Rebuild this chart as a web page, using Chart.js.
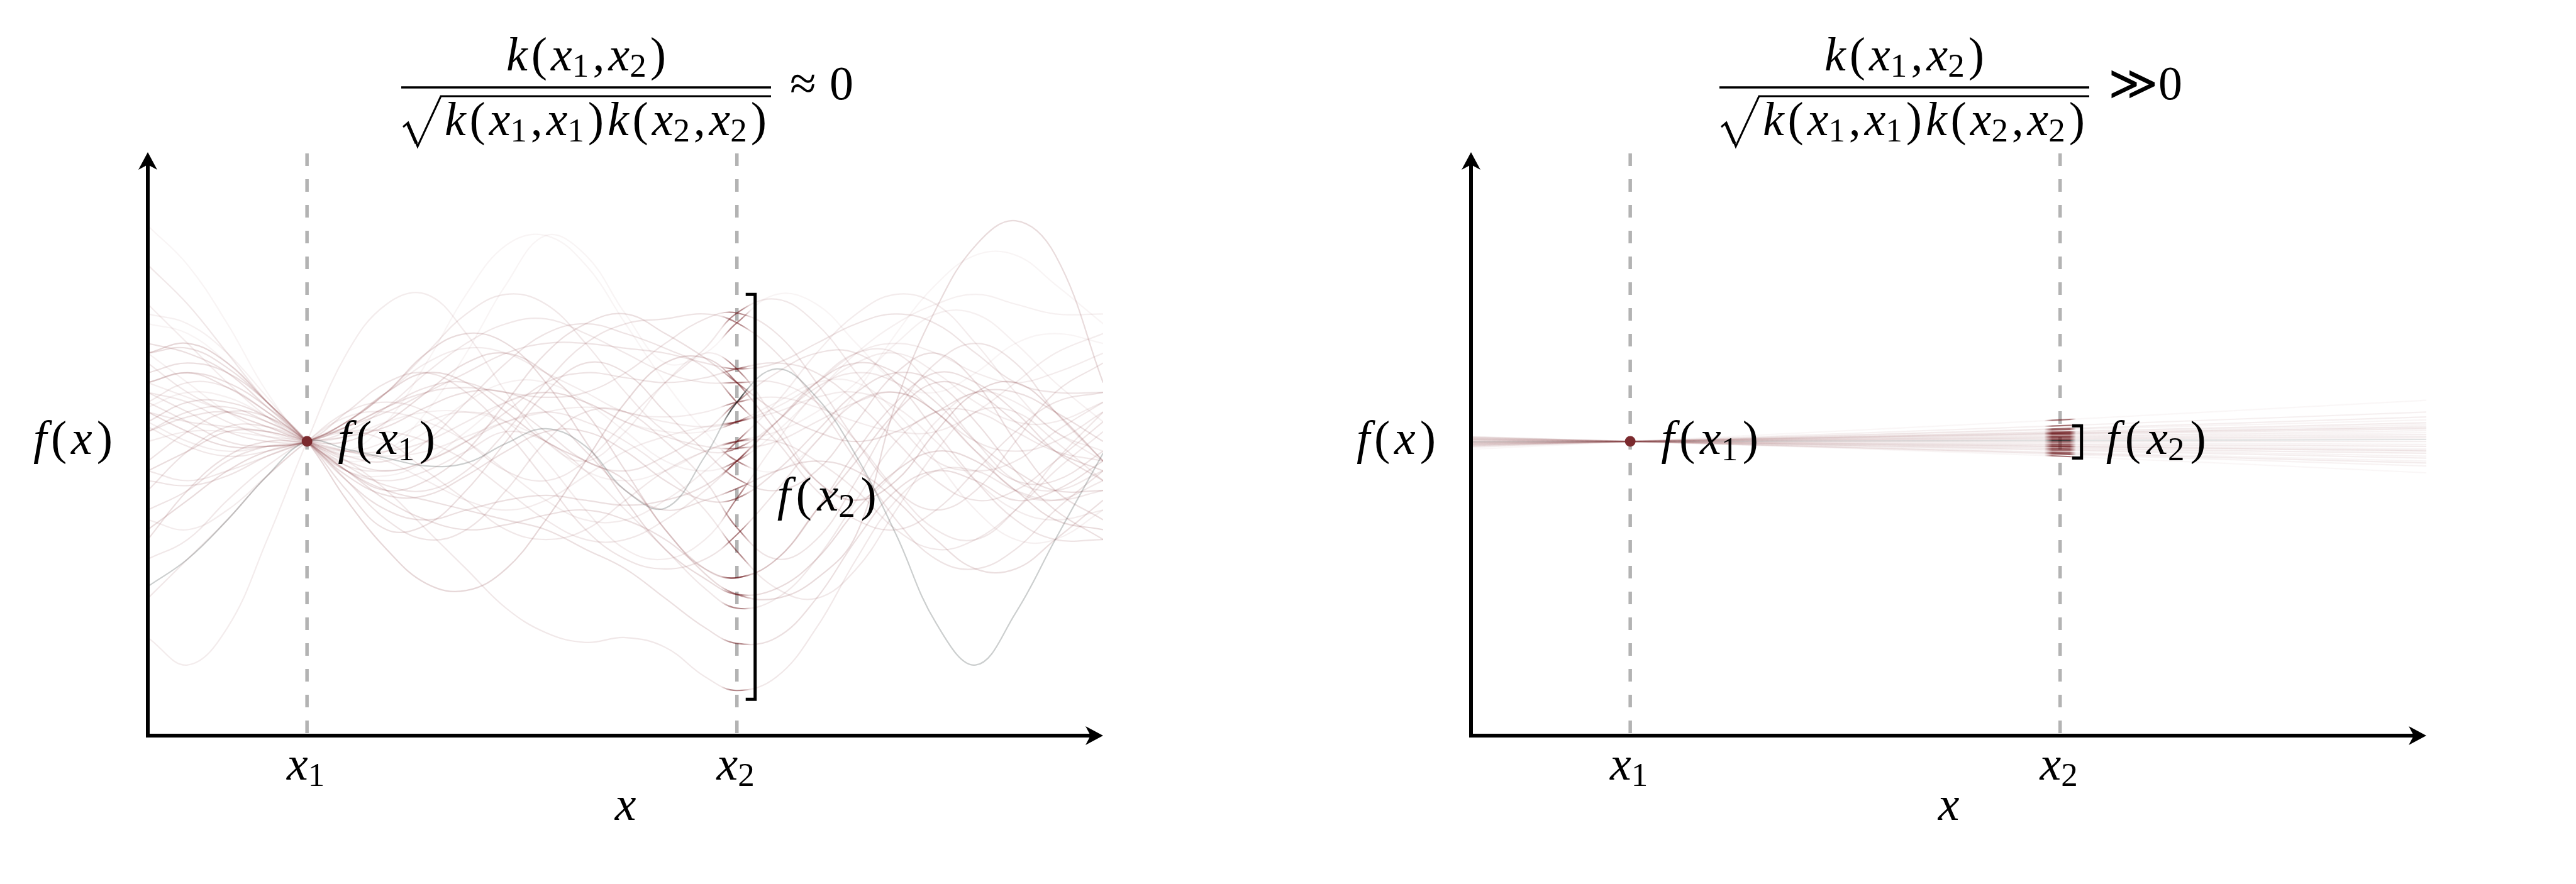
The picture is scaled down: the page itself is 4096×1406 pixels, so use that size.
<!DOCTYPE html>
<html>
<head>
<meta charset="utf-8">
<script src="https://cdn.jsdelivr.net/npm/chart.js@4"></script>
<style>
  html, body { margin: 0; background: #fff; width: 4096px; height: 1406px; overflow: hidden; }
  canvas { position: absolute; top: 0; }
</style>
</head>
<body>
<canvas id="left" width="2048" height="1406" style="left:0"></canvas>
<canvas id="right" width="2048" height="1406" style="left:2048px"></canvas>
<script>
// sample positions along x (x1 = 1, x2 = 3.7, axis runs 0..6)
const xs = [0, 0.25, 0.5, 0.75, 1, 1.25, 1.5, 1.75, 2, 2.25, 2.5, 2.75, 3, 3.25, 3.5, 3.7, 3.95, 4.2, 4.45, 4.7, 4.95, 5.2, 5.45, 5.7, 6];
const X1 = 1;
const X2 = 3.7;

// left panel: samples, all through f(x1) = 0
const leftCurves = [
  [-1.48, -1.2, -0.8, -0.35, 0, -0.08, -0.17, -0.25, -0.22, -0.02, 0.13, -0.05, -0.5, -0.68, -0.15, 0.4, 0.74, 0.45, -0.15, -0.95, -1.85, -2.28, -1.75, -1.0, -0.12],
  [0.3, 0.1, -0.05, -0.05, 0, 0.2, 0.5, 0.7, 0.6, 0.3, 0.0, -0.2, -0.4, -0.9, -1.35, -1.56, -1.6, -1.4, -0.95, 0.4, 1.35, 2.0, 2.25, 1.9, 0.6],
  [-2.0, -2.28, -1.9, -1.0, 0, 0.9, 1.4, 1.5, 1.1, 0.5, 0.0, -0.2, 0.1, 0.6, 0.9, 0.74, 0.2, -0.4, -0.6, -0.3, 0.2, 0.5, 0.4, 0.1, -0.2],
  [2.2, 1.8, 1.2, 0.5, 0, -0.2, -0.1, 0.3, 0.9, 1.6, 2.1, 1.9, 1.3, 0.8, 0.9, 1.21, 1.5, 1.4, 1.0, 0.6, 0.5, 0.7, 1.0, 1.1, 1.0],
  [0.6, 0.7, 0.6, 0.35, 0, -0.5, -0.9, -0.85, -0.5, 0.0, 0.5, 0.8, 0.7, 0.3, -0.1, -0.38, -0.5, -0.3, 0.2, 0.7, 0.9, 0.6, 0.0, -0.5, -0.8],
  [0.9, 1.0, 0.8, 0.4, 0, -0.6, -1.1, -1.45, -1.52, -1.3, -0.8, -0.2, 0.4, 0.8, 0.85, 0.6, 0.1, -0.4, -0.6, -0.4, 0.1, 0.5, 0.6, 0.3, -0.2],
  [0.5, 0.3, 0.1, 0.0, 0, 0.15, 0.35, 0.5, 0.55, 0.5, 0.45, 0.5, 0.7, 1.0, 1.25, 1.31, 1.1, 0.6, 0.0, -0.5, -0.7, -0.5, 0.0, 0.5, 0.8],
  [-0.3, -0.1, 0.1, 0.1, 0, 0.0, 0.2, 0.5, 0.8, 0.9, 0.7, 0.3, -0.3, -0.9, -1.3, -1.39, -1.2, -0.7, -0.2, 0.3, 0.6, 0.5, 0.2, -0.1, -0.3],
  [0.8, 0.5, 0.3, 0.15, 0, -0.1, -0.1, 0.0, 0.2, 0.4, 0.5, 0.4, 0.2, 0.05, -0.05, -0.07, 0.0, 0.2, 0.4, 0.5, 0.3, -0.1, -0.5, -0.6, -0.4],
  [-0.7, -0.5, -0.2, -0.05, 0, 0.3, 0.6, 0.7, 0.5, 0.1, -0.4, -0.9, -1.2, -1.3, -1.2, -0.95, -0.5, 0.0, 0.4, 0.5, 0.3, -0.1, -0.4, -0.4, -0.1],
  [1.4, 1.0, 0.6, 0.25, 0, -0.1, 0.0, 0.2, 0.3, 0.2, -0.2, -0.7, -1.1, -1.2, -1.0, -0.58, 0.0, 0.5, 0.8, 0.9, 0.7, 0.4, 0.2, 0.2, 0.4],
  [0.2, 0.4, 0.4, 0.25, 0, -0.3, -0.5, -0.4, -0.1, 0.4, 0.9, 1.2, 1.3, 1.1, 0.85, 0.6, 0.3, 0.1, 0.0, 0.1, 0.3, 0.5, 0.5, 0.3, 0.0],
  [-0.9, -0.6, -0.3, -0.1, 0, 0.2, 0.5, 0.9, 1.1, 1.0, 0.6, 0.0, -0.6, -1.1, -1.4, -1.56, -1.5, -1.2, -0.7, -0.3, -0.1, -0.2, -0.5, -0.8, -0.9],
  [0.4, 0.6, 0.55, 0.3, 0, -0.25, -0.3, -0.2, 0.0, 0.2, 0.3, 0.2, 0.0, -0.3, -0.7, -1.12, -1.5, -1.6, -1.3, -0.7, -0.1, 0.3, 0.3, 0.0, -0.4],
  [0.1, 0.3, 0.35, 0.2, 0, -0.2, -0.3, -0.2, 0.0, 0.3, 0.6, 0.7, 0.65, 0.6, 0.65, 0.74, 0.8, 0.7, 0.4, 0.0, -0.4, -0.6, -0.5, -0.2, 0.2],
  [1.0, 0.9, 0.7, 0.35, 0, -0.3, -0.5, -0.6, -0.7, -0.8, -0.9, -1.1, -1.3, -1.6, -1.9, -2.06, -2.0, -1.6, -1.0, -0.5, -0.3, -0.4, -0.6, -0.5, -0.2],
  [0.3, 0.2, 0.15, 0.1, 0, -0.2, -0.5, -0.9, -1.3, -1.7, -1.95, -2.05, -2.0, -2.1, -2.4, -2.54, -2.4, -1.9, -1.2, -0.6, -0.3, -0.3, -0.5, -0.6, -0.5],
  [0.6, 0.45, 0.3, 0.15, 0, -0.1, -0.15, -0.1, 0.05, 0.2, 0.3, 0.35, 0.3, 0.2, 0.15, 0.2, 0.35, 0.6, 0.9, 1.0, 0.9, 0.7, 0.6, 0.7, 0.9],
  [-0.2, 0.1, 0.3, 0.25, 0, -0.4, -0.8, -1.0, -0.9, -0.5, 0.0, 0.3, 0.3, 0.0, -0.4, -0.88, -1.2, -1.0, -0.4, 0.3, 0.8, 1.0, 0.8, 0.3, -0.2],
  [0.5, 0.4, 0.2, 0.05, 0, 0.1, 0.35, 0.7, 1.0, 1.2, 1.25, 1.1, 0.9, 0.7, 0.6, 0.6, 0.6, 0.4, 0.0, -0.5, -0.9, -1.0, -0.7, -0.2, 0.3],
  [0.9, 0.6, 0.3, 0.1, 0, 0.05, 0.2, 0.3, 0.3, 0.2, 0.0, -0.3, -0.4, -0.3, -0.1, 0.0, 0.1, 0.3, 0.6, 1.0, 1.3, 1.3, 1.0, 0.6, 0.2],
  [-1.0, -0.5, -0.15, 0.0, 0, 0.05, 0.15, 0.35, 0.5, 0.5, 0.3, -0.1, -0.5, -0.7, -0.6, -0.48, -0.3, -0.2, -0.3, -0.6, -1.0, -1.3, -1.3, -1.0, -0.6],
  [0.2, 0.0, -0.1, -0.05, 0, 0.2, 0.5, 0.8, 0.95, 0.9, 0.7, 0.5, 0.3, 0.25, 0.3, 0.4, 0.45, 0.35, 0.2, 0.1, 0.1, 0.3, 0.6, 0.9, 1.1],
  [1.8, 1.4, 0.9, 0.4, 0, -0.3, -0.4, -0.3, -0.1, 0.1, 0.0, -0.3, -0.7, -1.1, -1.5, -1.7, -1.6, -1.2, -0.6, 0.0, 0.3, 0.3, 0.1, -0.1, -0.2],
  [-0.4, -0.45, -0.35, -0.15, 0, 0.15, 0.3, 0.5, 0.7, 0.9, 1.0, 1.0, 0.95, 0.9, 0.8, 0.74, 0.8, 1.0, 1.2, 1.3, 1.2, 0.9, 0.6, 0.5, 0.5],
  [0.7, 0.8, 0.7, 0.4, 0, -0.4, -0.7, -0.8, -0.7, -0.6, -0.55, -0.6, -0.65, -0.6, -0.45, -0.2, 0.2, 0.6, 0.8, 0.7, 0.4, 0.0, -0.3, -0.5, -0.5],
  [-1.6, -1.2, -0.8, -0.35, 0, 0.3, 0.4, 0.3, 0.0, -0.3, -0.4, -0.2, 0.2, 0.6, 0.95, 1.31, 1.45, 1.2, 0.7, 0.2, -0.2, -0.3, -0.2, 0.1, 0.4],
  [1.2, 1.1, 0.8, 0.4, 0, -0.1, 0.2, 0.8, 1.5, 2.0, 2.1, 1.8, 1.2, 0.6, 0.1, -0.2, -0.3, 0.0, 0.5, 1.1, 1.6, 1.9, 1.9, 1.6, 1.2],
  [0.0, 0.1, 0.1, 0.05, 0, -0.1, -0.2, -0.4, -0.6, -0.7, -0.6, -0.35, -0.1, 0.05, 0.15, 0.2, 0.3, 0.45, 0.5, 0.35, 0.0, -0.4, -0.7, -0.8, -0.7],
  [0.35, 0.5, 0.45, 0.25, 0, -0.15, -0.1, 0.1, 0.4, 0.6, 0.6, 0.4, 0.1, -0.2, -0.3, -0.2, 0.1, 0.5, 0.9, 1.2, 1.4, 1.5, 1.4, 1.3, 1.3],
  [-1.2, -1.0, -0.6, -0.25, 0, 0.1, 0.0, -0.3, -0.6, -0.9, -1.0, -0.9, -0.6, -0.3, -0.1, 0.0, 0.0, -0.2, -0.5, -0.9, -1.1, -1.0, -0.7, -0.3, 0.1],
  [0.6, 0.7, 0.55, 0.3, 0, -0.3, -0.6, -0.8, -0.9, -0.85, -0.75, -0.7, -0.8, -1.0, -1.3, -1.39, -1.2, -0.7, -0.1, 0.4, 0.7, 0.6, 0.3, -0.1, -0.4],
  [-0.5, -0.1, 0.15, 0.15, 0, -0.15, -0.2, 0.0, 0.4, 0.8, 1.1, 1.2, 1.1, 0.95, 0.75, 0.4, 0.0, -0.5, -0.8, -0.9, -0.7, -0.3, 0.1, 0.4, 0.5],
  [1.3, 1.2, 0.9, 0.45, 0, -0.3, -0.35, -0.2, 0.1, 0.4, 0.5, 0.4, 0.2, 0.1, 0.1, 0.2, 0.4, 0.6, 0.6, 0.3, -0.2, -0.7, -1.0, -1.0, -0.7],
  [0.15, -0.05, -0.15, -0.1, 0, 0.1, 0.1, 0.0, -0.2, -0.5, -0.8, -1.0, -1.0, -0.8, -0.5, -0.2, 0.2, 0.55, 0.7, 0.6, 0.3, 0.0, -0.1, 0.0, 0.3],
  [-0.8, -0.9, -0.7, -0.35, 0, 0.25, 0.3, 0.2, 0.0, -0.3, -0.6, -0.8, -0.8, -0.6, -0.3, 0.0, 0.4, 0.9, 1.3, 1.5, 1.4, 1.0, 0.5, 0.1, -0.1],
  [0.4, 0.2, 0.0, -0.05, 0, 0.15, 0.35, 0.55, 0.6, 0.4, 0.1, -0.2, -0.3, -0.15, 0.1, 0.4, 0.7, 0.9, 0.9, 0.6, 0.1, -0.4, -0.8, -1.0, -1.0],
  [0.9, 0.95, 0.75, 0.4, 0, -0.35, -0.55, -0.55, -0.35, -0.1, 0.1, 0.1, -0.1, -0.4, -0.6, -0.58, -0.3, 0.1, 0.5, 0.7, 0.6, 0.2, -0.3, -0.7, -1.0],
  [-0.3, -0.4, -0.3, -0.15, 0, 0.2, 0.5, 0.9, 1.3, 1.5, 1.4, 1.0, 0.5, 0.1, -0.1, -0.07, 0.2, 0.6, 0.9, 0.9, 0.5, 0.0, -0.4, -0.5, -0.3],
  [0.1, 0.25, 0.3, 0.2, 0, -0.25, -0.45, -0.5, -0.3, 0.1, 0.6, 1.0, 1.2, 1.25, 1.3, 1.21, 0.9, 0.4, -0.2, -0.8, -1.2, -1.3, -1.1, -0.7, -0.3]
];
const leftAlpha = [0.28, 0.17, 0.09, 0.05, 0.15, 0.19, 0.13, 0.16, 0.11, 0.13, 0.09, 0.15, 0.17, 0.11, 0.13, 0.15, 0.11, 0.09, 0.13, 0.11,
                   0.07, 0.15, 0.09, 0.11, 0.13, 0.15, 0.11, 0.05, 0.09, 0.07, 0.11, 0.15, 0.13, 0.07, 0.11, 0.09, 0.13, 0.15, 0.11, 0.13];
const leftGrey = 0;
const leftBracket = [1.5, -2.63];

// right panel: nearly straight lines, values at x = 0, x1, x2, 6
const rightXs = [0, 1, 3.7, 6];
const rightLines = [
  [-0.06, 0, 0.16, 0.3],
  [-0.05, 0, 0.13, 0.25],
  [-0.045, 0, 0.12, 0.22],
  [-0.04, 0, 0.1, 0.19],
  [-0.035, 0, 0.09, 0.17],
  [-0.03, 0, 0.08, 0.15],
  [-0.025, 0, 0.07, 0.13],
  [-0.02, 0, 0.055, 0.11],
  [-0.018, 0, 0.05, 0.09],
  [-0.015, 0, 0.04, 0.07],
  [-0.01, 0, 0.03, 0.05],
  [-0.006, 0, 0.02, 0.035],
  [-0.004, 0, 0.01, 0.02],
  [0, 0, 0, 0],
  [0.005, 0, -0.015, -0.03],
  [0.01, 0, -0.03, -0.05],
  [0.015, 0, -0.04, -0.075],
  [0.02, 0, -0.055, -0.1],
  [0.025, 0, -0.07, -0.12],
  [0.03, 0, -0.08, -0.15],
  [0.035, 0, -0.09, -0.17],
  [0.04, 0, -0.11, -0.2],
  [0.045, 0, -0.12, -0.22],
  [0.05, 0, -0.13, -0.25],
  [0.032, 0, -0.15, -0.32],
  [-0.08, 0, 0.22, 0.42],
  [-0.03, 0, 0.085, 0.14],
  [0.02, 0, -0.05, -0.09]
];
const rightAlpha = [0.07, 0.08, 0.05, 0.09, 0.06, 0.08, 0.09, 0.06, 0.05, 0.08, 0.09, 0.06, 0.16, 0.08, 0.06, 0.09, 0.05, 0.08, 0.09, 0.06,
                    0.08, 0.05, 0.09, 0.06, 0.04, 0.04, 0.06, 0.08];
const rightGrey = 12;
const rightBracket = [0.16, -0.17];

const FS = 76;
const SERIF = '"Liberation Serif"';

function fontFor(kind) {
  if (kind === 'i') return 'italic ' + FS + 'px ' + SERIF;
  if (kind === 's') return Math.round(FS * 0.7) + 'px ' + SERIF;
  if (kind === 'm') return FS + 'px "DejaVu Serif"';
  return FS + 'px ' + SERIF;
}

// draws a run of math glyphs, spread out to a given width
function drawMath(ctx, parts, x, base, width, align) {
  ctx.save();
  ctx.fillStyle = '#000';
  ctx.textBaseline = 'alphabetic';
  ctx.textAlign = 'left';
  let natural = 0, gaps = 0;
  parts.forEach(([t, k], i) => {
    ctx.font = fontFor(k);
    natural += ctx.measureText(t).width;
    if (i > 0 && k !== 's') gaps++;
  });
  const w = width || natural;
  const gap = gaps ? (w - natural) / gaps : 0;
  let cx = align === 'center' ? x - w / 2 : x;
  parts.forEach(([t, k], i) => {
    if (i > 0 && k !== 's') cx += gap;
    ctx.font = fontFor(k);
    ctx.fillText(t, cx, k === 's' ? base + FS * 0.13 : base);
    cx += ctx.measureText(t).width;
  });
  ctx.restore();
}

function fx(arg, sub) {
  const p = [['f', 'i'], ['(', 'r'], [arg, 'i']];
  if (sub) p.push([sub, 's']);
  p.push([')', 'r']);
  return p;
}
const numer = [['k', 'i'], ['(', 'r'], ['x', 'i'], ['1', 's'], [',', 'r'], ['x', 'i'], ['2', 's'], [')', 'r']];
const denom = [['k', 'i'], ['(', 'r'], ['x', 'i'], ['1', 's'], [',', 'r'], ['x', 'i'], ['1', 's'], [')', 'r'],
               ['k', 'i'], ['(', 'r'], ['x', 'i'], ['2', 's'], [',', 'r'], ['x', 'i'], ['2', 's'], [')', 'r']];

function arrowHead(ctx, tx, ty, up) {
  ctx.save();
  ctx.translate(tx, ty);
  if (up) ctx.rotate(-Math.PI / 2);
  ctx.beginPath();
  ctx.moveTo(0, 0);
  ctx.lineTo(-28, -15);
  ctx.lineTo(-20, 0);
  ctx.lineTo(-28, 15);
  ctx.closePath();
  ctx.fill();
  ctx.restore();
}

function lineColor(light, dark, win) {
  return function (c) {
    const chart = c.chart, a = chart.chartArea;
    if (!a) return light;
    const sx = chart.scales.x;
    const f = v => Math.min(1, Math.max(0, (sx.getPixelForValue(v) - a.left) / (a.right - a.left)));
    const g = chart.ctx.createLinearGradient(a.left, 0, a.right, 0);
    g.addColorStop(0, light);
    g.addColorStop(f(X2 + win[0]), light);
    g.addColorStop(f(X2 + win[1]), dark);
    g.addColorStop(f(X2 + win[2]), dark);
    g.addColorStop(f(X2 + win[3]), light);
    g.addColorStop(1, light);
    return g;
  };
}

function panelPlugin(p) {
  return {
    id: 'panel',
    beforeDatasetsDraw(chart) {
      const { ctx, chartArea: a, scales: { x } } = chart;
      ctx.save();
      ctx.strokeStyle = '#b3b3b3';
      ctx.lineWidth = 5.5;
      ctx.setLineDash([20, 21]);
      [X1, X2].forEach(v => {
        const px = x.getPixelForValue(v);
        ctx.beginPath();
        ctx.moveTo(px, a.top + 2);
        ctx.lineTo(px, a.bottom);
        ctx.stroke();
      });
      ctx.restore();
    },
    afterDatasetsDraw(chart) {
      const { ctx, chartArea: a, scales: { x, y } } = chart;
      const px1 = x.getPixelForValue(X1), px2 = x.getPixelForValue(X2);
      const y0 = y.getPixelForValue(0);
      ctx.save();
      // axes
      ctx.strokeStyle = '#000';
      ctx.fillStyle = '#000';
      ctx.lineWidth = 6;
      ctx.beginPath();
      ctx.moveTo(a.left, a.top + 12);
      ctx.lineTo(a.left, a.bottom);
      ctx.lineTo(a.right - 12, a.bottom);
      ctx.stroke();
      arrowHead(ctx, a.left, a.top, true);
      arrowHead(ctx, a.right, a.bottom, false);
      // bracket around f(x2)
      const bx = px2 + p.bracketDx;
      const bt = y.getPixelForValue(p.bracket[0]), bb = y.getPixelForValue(p.bracket[1]);
      ctx.lineWidth = 5;
      ctx.beginPath();
      ctx.moveTo(bx - 15, bt);
      ctx.lineTo(bx, bt);
      ctx.lineTo(bx, bb);
      ctx.lineTo(bx - 15, bb);
      ctx.stroke();
      // title: fraction with square root
      const tl = a.left + p.titleLeft, tr = tl + 588;
      ctx.lineWidth = 3.3;
      ctx.beginPath();
      ctx.moveTo(tl, 139);
      ctx.lineTo(tr, 139);
      ctx.stroke();
      ctx.lineWidth = 3;
      ctx.beginPath();
      ctx.moveTo(tl + 3, 202);
      ctx.lineTo(tl + 11, 195);
      ctx.lineTo(tl + 26, 233);
      ctx.lineTo(tl + 63, 153);
      ctx.lineTo(tr, 153);
      ctx.stroke();
      ctx.lineWidth = 5;
      ctx.beginPath();
      ctx.moveTo(tl + 10, 196);
      ctx.lineTo(tl + 24, 228);
      ctx.stroke();
      ctx.restore();

      drawMath(ctx, numer, (tl + tr) / 2, 112, 254, 'center');
      drawMath(ctx, denom, tl + 69, 215, 512);
      drawMath(ctx, [[p.rel, p.relKind], ['0', 'r']], tr + 30, 158, p.relW);

      drawMath(ctx, fx('x'), a.left - 182, y0 + 20, 126);
      drawMath(ctx, fx('x', '1'), px1 + 49, y0 + 20, 155);
      drawMath(ctx, fx('x', '2'), px2 + p.f2dx, y0 + p.f2dy + 20, p.f2w);
      drawMath(ctx, [['x', 'i'], ['1', 's']], px1 - 2, a.bottom + 70, 0, 'center');
      drawMath(ctx, [['x', 'i'], ['2', 's']], px2 - 2, a.bottom + 70, 0, 'center');
      drawMath(ctx, [['x', 'i']], (a.left + a.right) / 2, a.bottom + 134, 0, 'center');
    }
  };
}

function buildDatasets(xv, rows, alphas, grey, win, darkA) {
  const sets = [{
    data: [{ x: X1, y: 0 }],
    showLine: false,
    pointRadius: 8.5,
    pointBackgroundColor: '#7b2a2e',
    pointBorderWidth: 0,
    order: 0
  }];
  rows.forEach((ys, i) => {
    const isGrey = i === grey;
    const light = isGrey ? 'rgba(70,80,80,' + alphas[i] + ')' : 'rgba(123,42,46,' + alphas[i] + ')';
    const dark = isGrey ? 'rgba(15,15,15,' + Math.min(1, darkA + 0.2) + ')' : 'rgba(105,18,22,' + darkA + ')';
    sets.push({
      data: xv.map((x, j) => ({ x: x, y: ys[j] })),
      borderColor: lineColor(light, dark, win),
      borderWidth: 2.2,
      pointRadius: 0,
      tension: 0.4,
      fill: false,
      order: 1
    });
  });
  return sets;
}

function makeChart(id, datasets, pad, p) {
  return new Chart(document.getElementById(id).getContext('2d'), {
    type: 'line',
    data: { datasets: datasets },
    options: {
      responsive: false,
      animation: false,
      events: [],
      layout: { padding: pad },
      scales: {
        x: { type: 'linear', min: 0, max: 6, display: false },
        y: { min: -3, max: 2.95, display: false }
      },
      plugins: { legend: { display: false }, tooltip: { enabled: false } }
    },
    plugins: [panelPlugin(p)]
  });
}

makeChart('left',
  buildDatasets(xs, leftCurves, leftAlpha, leftGrey, [-0.1, -0.04, 0.03, 0.09], 0.5),
  { left: 235, right: 294, top: 242, bottom: 236 },
  { bracket: leftBracket, bracketDx: 29, titleLeft: 403, rel: '\u2248', relKind: 'r', relW: 101, f2dx: 64, f2dy: 90, f2w: 158 });

makeChart('right',
  buildDatasets(rightXs, rightLines, rightAlpha, rightGrey, [-0.1, -0.05, 0.06, 0.1], 0.6),
  { left: 291, right: 238, top: 242, bottom: 236 },
  { bracket: rightBracket, bracketDx: 34, titleLeft: 395, rel: '\u226B', relKind: 'm', relW: 118, f2dx: 73, f2dy: 0, f2w: 159 });
</script>
</body>
</html>
